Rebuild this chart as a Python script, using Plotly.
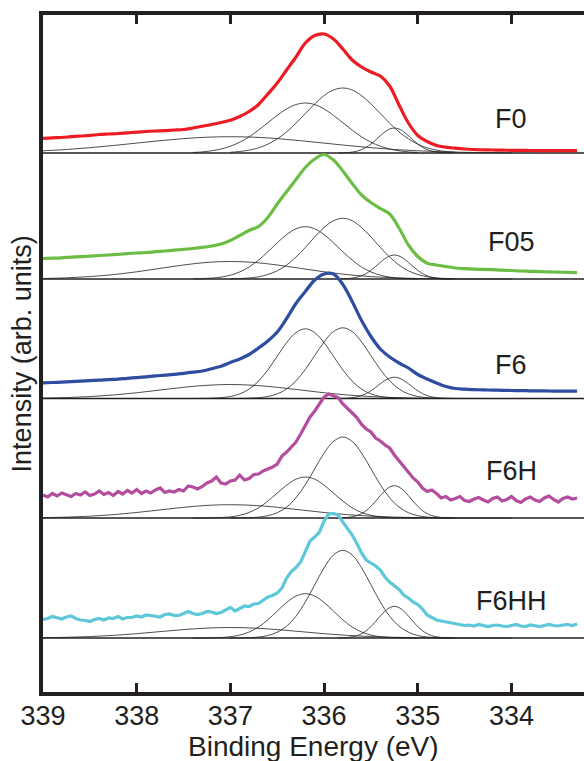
import numpy as np
import plotly.graph_objects as go

# ---------------- data ----------------
samples = ["F0", "F05", "F6", "F6H", "F6HH"]
offsets = [539, 413, 293.5, 174, 54]          # vertical stacking offsets (arb. units)
colors = ["#ED1C24", "#6CBD45", "#2E4DA0", "#B54D9F", "#5EC7D9"]
x_ticks = [339, 338, 337, 336, 335, 334]

# measured spectra (intensity above baseline), 0.1 eV steps from 339.0 eV
f0_int = [14.7, 15.2, 15.5, 16.3, 17.0, 17.6, 18.5, 19.0, 19.5, 20.2,
          20.8, 21.5, 22.0, 22.4, 23.0, 23.5, 25.0, 26.8, 28.5, 30.5,
          32.8, 36.5, 41.5, 48.5, 59, 70, 83, 96, 110, 117.5,
          119, 114, 104, 93, 86, 81, 77, 67, 48, 30,
          17.5, 11.5, 7.5, 5.8, 4.8, 4.0, 3.5, 3.2, 3.0, 2.8,
          2.7, 2.6, 2.5, 2.4, 2.4, 2.3, 2.3, 2.3]
f05_int = [20.5, 20.8, 21.2, 21.9, 22.3, 22.9, 23.5, 24.0, 24.6, 25.4,
           26.0, 26.5, 27.3, 28.0, 28.8, 29.7, 30.5, 31.6, 33.0, 35.0,
           38.5, 43.5, 48.5, 52.5, 61.5, 75, 87.3, 99.5, 111.5, 120,
           124.5, 119, 108, 95.5, 84, 76.5, 70.5, 65, 51, 34,
           22.5, 15.8, 14.0, 12.5, 11.0, 10.3, 9.8, 9.6, 9.3, 8.8,
           8.5, 8.0, 7.7, 7.4, 7.1, 6.9, 6.6, 6.4]
f6_int = [15.7, 16.0, 16.4, 16.9, 17.4, 17.9, 18.3, 18.9, 19.4, 20.2,
          20.9, 21.7, 22.6, 23.3, 24.1, 25.2, 26.3, 27.5, 29.8, 32.2,
          36.0, 39.5, 44.0, 50.5, 57.5, 66.5, 80, 95, 107, 118.5,
          124.5, 124.5, 114, 97, 78, 62, 49.5, 41.5, 35.5, 30.5,
          24, 19.5, 15.5, 12.0, 10.0, 9.3, 8.9, 8.6, 8.4, 8.2,
          8.0, 7.9, 7.7, 7.6, 7.5, 7.4, 7.3, 7.3]
# noisier spectra, 0.05 eV steps from 339.0 eV
f6h_int = [23, 21, 24.5, 22, 25, 23, 21.5, 24.5, 23, 26,
           22.5, 24, 27, 23.5, 25.5, 22.5, 26.5, 24, 27.5, 25,
           28.5, 24.5, 27, 25, 28, 30, 25.5, 27, 26, 28.5,
           27, 32, 31, 29, 31.5, 35, 37, 41, 35, 34,
           37, 38, 43, 38, 39.5, 43.5, 44, 47, 49, 51,
           54, 62, 66, 71, 76, 84, 93, 101, 107, 114,
           121, 124, 122.5, 120.5, 114, 110, 105, 100.5, 93.5, 89,
           86, 80, 77, 73, 70, 63, 57, 52, 46, 40,
           36, 30, 26.5, 28, 24.5, 20, 21.5, 18, 19.5, 21.5,
           17.5, 16.5, 19, 20.5, 18, 16, 19.5, 21, 17, 18.5,
           21.5, 17.5, 15.5, 19, 21, 18, 16.5, 20, 22, 18.5,
           16, 19.5, 21, 19, 20]
f6hh_int = [18.7, 19.5, 21.5, 20, 19, 21, 22, 19.5, 18, 17.5,
            16.5, 18.5, 19.5, 18, 20, 19.5, 21.5, 19, 20.5, 20.5,
            22, 21, 23, 22.5, 21.5, 21, 23.5, 24, 22.5, 22.5,
            24.5, 26.5, 24.5, 23.5, 24.5, 26.5, 26, 24.5, 25.5, 28,
            30.5, 27, 29.5, 32, 31.5, 34, 34.5, 37.5, 41, 42.5,
            45, 50, 60, 66.5, 70.5, 76, 86, 97, 101, 106,
            117, 124, 124.5, 123, 116, 110, 103, 94.5, 85, 78,
            75, 72, 68, 61, 56, 52, 48.5, 43, 40, 36,
            33.5, 29, 23, 20.5, 18, 17, 16, 15, 14.5, 13.5,
            12.5, 13, 12, 13.5, 12.5, 11.5, 12.5, 13, 12, 11.5,
            12.5, 13.5, 12, 11.5, 13, 12, 11.5, 12.5, 13.5, 12.5,
            12, 13, 13.5, 12.5, 14]

# fitted components, sampled values
# broad component: 339.0 -> 334.0 eV, 0.25 eV steps
f0_broad = [2.2, 3.5, 5.3, 7.5, 9.9, 12.3, 14.4, 15.8, 16.3, 15.8, 14.4,
            12.3, 9.9, 7.5, 5.3, 3.5, 2.2, 1.3, 0.7, 0.4, 0.2]
f05_broad = [0.5, 1.15, 2.4, 4.4, 7.2, 10.6, 14.0, 16.6, 17.5, 16.6, 14.0,
             10.6, 7.2, 4.4, 2.4, 1.15, 0.5, 0.2, 0.07, 0, 0]
f6_broad = [0.4, 0.92, 1.9, 3.5, 5.75, 8.5, 11.2, 13.2, 14, 13.2, 11.2,
            8.5, 5.75, 3.5, 1.9, 0.92, 0.4, 0.16, 0.05, 0, 0]
f6h_broad = [0.38, 0.87, 1.8, 3.3, 5.5, 8.1, 10.7, 12.6, 13.3, 12.6, 10.7,
             8.1, 5.5, 3.3, 1.8, 0.87, 0.38, 0.15, 0.05, 0, 0]
f6hh_broad = [0.3, 0.69, 1.42, 2.6, 4.3, 6.4, 8.4, 9.9, 10.5, 9.9, 8.4,
              6.4, 4.3, 2.6, 1.42, 0.69, 0.3, 0.12, 0.04, 0, 0]
# component B: 337.4 -> 335.0 eV, 0.1 eV steps
f0_b = [0.55, 1.1, 2.2, 4.0, 6.8, 10.8, 16.2, 22.9, 30.3, 37.7, 44.1, 48.45, 50,
        48.45, 44.1, 37.7, 30.3, 22.9, 16.2, 10.8, 6.8, 4.0, 2.2, 1.1, 0.55]
f05_b = [0.15, 0.38, 0.88, 1.9, 3.8, 7.1, 12.0, 18.9, 27.2, 36.2, 44.4, 50.2, 52.3,
         50.2, 44.4, 36.2, 27.2, 18.9, 12.0, 7.1, 3.8, 1.9, 0.88, 0.38, 0.15]
f6_b = [0.02, 0.08, 0.27, 0.77, 2.0, 4.6, 9.4, 17.4, 28.6, 42.3, 55.8, 65.9, 69.7,
        65.9, 55.8, 42.3, 28.6, 17.4, 9.4, 4.6, 2.0, 0.77, 0.27, 0.08, 0.02]
f6h_b = [0.01, 0.05, 0.16, 0.46, 1.17, 2.7, 5.5, 10.2, 16.9, 24.9, 32.8, 38.8, 41,
         38.8, 32.8, 24.9, 16.9, 10.2, 5.5, 2.7, 1.17, 0.46, 0.16, 0.05, 0.01]
f6hh_b = [0.01, 0.05, 0.17, 0.49, 1.27, 2.9, 6.0, 11.0, 18.2, 26.9, 35.5, 41.9, 44.3,
          41.9, 35.5, 26.9, 18.2, 11.0, 6.0, 2.9, 1.27, 0.49, 0.17, 0.05, 0.01]
# component C: 337.0 -> 334.6 eV, 0.1 eV steps
f0_c = [0.72, 1.5, 2.85, 5.2, 8.8, 14.1, 21.1, 29.8, 39.4, 49.1, 57.4, 63.0, 65,
        63.0, 57.4, 49.1, 39.4, 29.8, 21.1, 14.1, 8.8, 5.2, 2.85, 1.5, 0.72]
f05_c = [0.17, 0.44, 1.03, 2.2, 4.5, 8.2, 14.0, 21.9, 31.6, 42.1, 51.5, 58.3, 60.7,
         58.3, 51.5, 42.1, 31.6, 21.9, 14.0, 8.2, 4.5, 2.2, 1.03, 0.44, 0.17]
f6_c = [0.02, 0.08, 0.27, 0.78, 2.0, 4.6, 9.5, 17.6, 29.1, 42.9, 56.6, 66.9, 70.7,
        66.9, 56.6, 42.9, 29.1, 17.6, 9.5, 4.6, 2.0, 0.78, 0.27, 0.08, 0.02]
f6h_c = [0.02, 0.1, 0.31, 0.9, 2.3, 5.3, 10.9, 20.2, 33.3, 49.2, 64.9, 76.6, 81,
         76.6, 64.9, 49.2, 33.3, 20.2, 10.9, 5.3, 2.3, 0.9, 0.31, 0.1, 0.02]
f6hh_c = [0.03, 0.1, 0.34, 0.97, 2.5, 5.8, 11.8, 21.8, 36.0, 53.2, 70.2, 83.0, 87.7,
          83.0, 70.2, 53.2, 36.0, 21.8, 11.8, 5.8, 2.5, 0.97, 0.34, 0.1, 0.03]
# component D: 335.85 -> 334.65 eV, 0.05 eV steps
f0_d = [0.07, 0.18, 0.42, 0.9, 1.8, 3.4, 5.75, 9.0, 13.0, 17.3, 21.2, 24.0, 25,
        24.0, 21.2, 17.3, 13.0, 9.0, 5.75, 3.4, 1.8, 0.9, 0.42, 0.18, 0.07]
f05_d = [0.07, 0.17, 0.41, 0.88, 1.8, 3.2, 5.5, 8.7, 12.5, 16.6, 20.4, 23.0, 24,
         23.0, 20.4, 16.6, 12.5, 8.7, 5.5, 3.2, 1.8, 0.88, 0.41, 0.17, 0.07]
f6_d = [0.06, 0.15, 0.36, 0.78, 1.6, 2.9, 4.9, 7.7, 11.1, 14.8, 18.1, 20.4, 21.3,
        20.4, 18.1, 14.8, 11.1, 7.7, 4.9, 2.9, 1.6, 0.78, 0.36, 0.15, 0.06]
f6h_d = [0.09, 0.23, 0.55, 1.2, 2.4, 4.4, 7.4, 11.7, 16.8, 22.4, 27.4, 31.0, 32.3,
         31.0, 27.4, 22.4, 16.8, 11.7, 7.4, 4.4, 2.4, 1.2, 0.55, 0.23, 0.09]
f6hh_d = [0.09, 0.23, 0.54, 1.16, 2.3, 4.3, 7.3, 11.4, 16.5, 22.0, 26.9, 30.4, 31.7,
          30.4, 26.9, 22.0, 16.5, 11.4, 7.3, 4.3, 2.3, 1.16, 0.54, 0.23, 0.09]

spectra = [f0_int, f05_int, f6_int, f6h_int, f6hh_int]
spec_step = [0.1, 0.1, 0.1, 0.05, 0.05]
spec_shape = ["spline", "spline", "spline", "linear", "linear"]
broad = [f0_broad, f05_broad, f6_broad, f6h_broad, f6hh_broad]
comp_b = [f0_b, f05_b, f6_b, f6h_b, f6hh_b]
comp_c = [f0_c, f05_c, f6_c, f6h_c, f6hh_c]
comp_d = [f0_d, f05_d, f6_d, f6h_d, f6hh_d]

# energy grids
def grid(start, step, n):
    return np.round(start - step * np.arange(n), 3)

E_broad = grid(339.0, 0.25, 21)
E_b = grid(337.4, 0.1, 25)
E_c = grid(337.0, 0.1, 25)
E_d = grid(335.85, 0.05, 25)

INK = "#231F20"
FONT = "Arial, Liberation Sans, sans-serif"

fig = go.Figure()

# fitted components
for i, s in enumerate(samples):
    off = offsets[i]
    for E, vals in [(E_broad, broad[i]), (E_b, comp_b[i]), (E_c, comp_c[i]), (E_d, comp_d[i])]:
        fig.add_trace(go.Scatter(
            x=E, y=off + np.array(vals), mode="lines",
            line=dict(color=INK, width=0.8, shape="spline", smoothing=1.0),
            hoverinfo="skip", showlegend=False))

# measured spectra
for i, s in enumerate(samples):
    vals = np.array(spectra[i])
    E = grid(339.0, spec_step[i], len(vals))
    fig.add_trace(go.Scatter(
        x=E, y=offsets[i] + vals, mode="lines", name=s,
        line=dict(color=colors[i], width=3.2, shape=spec_shape[i]),
        showlegend=False))

# baselines
shapes = []
for off in offsets:
    shapes.append(dict(type="line", xref="paper", x0=0, x1=1, yref="y", y0=off, y1=off,
                       line=dict(color=INK, width=1.3), layer="below"))

annotations = []
label_dy = [34, 37, 34, 47, 37]
for i, s in enumerate(samples):
    annotations.append(dict(x=334.0, y=offsets[i] + label_dy[i], xref="x", yref="y",
                            text=s, showarrow=False, xanchor="center", yanchor="middle",
                            font=dict(family=FONT, size=27, color=INK)))
annotations.append(dict(x=0.5, y=-0.081, xref="paper", yref="paper",
                        text="Binding Energy (eV)", showarrow=False,
                        xanchor="center", yanchor="middle",
                        font=dict(family=FONT, size=28, color=INK)))
annotations.append(dict(x=-0.039, y=0.5, xref="paper", yref="paper",
                        text="Intensity (arb. units)", showarrow=False, textangle=-90,
                        xanchor="center", yanchor="middle",
                        font=dict(family=FONT, size=27, color=INK)))

fig.update_layout(
    width=584, height=761,
    margin=dict(l=43, r=0, t=15, b=69, pad=0),
    paper_bgcolor="white", plot_bgcolor="white",
    shapes=shapes, annotations=annotations,
    showlegend=False,
    xaxis=dict(range=[339.0, 333.226], tickvals=x_ticks,
               ticktext=[str(t) for t in x_ticks],
               ticks="inside", ticklen=9, tickwidth=3, tickcolor=INK,
               showline=True, linewidth=4, linecolor=INK, mirror="allticks",
               showgrid=False, zeroline=False, ticklabelstandoff=-3,
               tickfont=dict(family=FONT, size=27, color=INK)),
    yaxis=dict(range=[0, 677], showline=True, linewidth=4, linecolor=INK,
               showticklabels=False, ticks="", showgrid=False, zeroline=False),
)

fig.write_html("out.html")
